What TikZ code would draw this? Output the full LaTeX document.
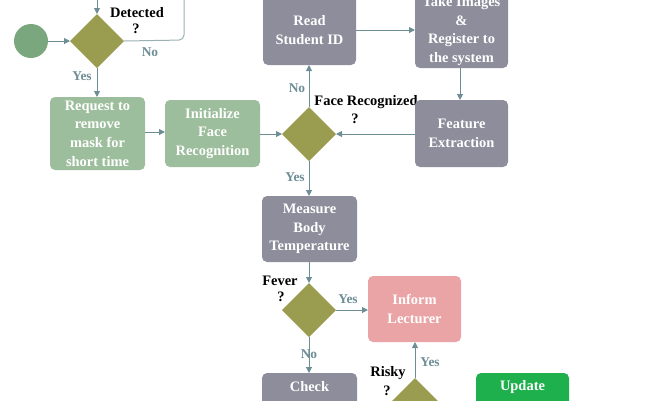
\documentclass[tikz,border=0pt]{standalone}
\usepackage{fontspec}
\setmainfont{Liberation Serif}
\usetikzlibrary{shapes.geometric,arrows.meta}
\definecolor{cgreen}{HTML}{9DBE9C}
\definecolor{cstart}{HTML}{7BA77E}
\definecolor{colive}{HTML}{9A9C50}
\definecolor{cgray}{HTML}{8D8D9C}
\definecolor{cpink}{HTML}{EBA4A5}
\definecolor{cupd}{HTML}{1EB04C}
\definecolor{cline}{HTML}{6E8E96}
\begin{document}
\begin{tikzpicture}[x=1bp,y=-1bp,
 box/.style={draw=none,rounded corners=5bp,text=white,font=\fontsize{14.5}{18.7}\selectfont\bfseries,align=center},
 dia/.style={fill=colive,draw=none},
 lab/.style={font=\fontsize{14.5}{17}\selectfont\bfseries},
 ylab/.style={font=\fontsize{13.5}{15}\selectfont\bfseries,text=cline},
 arr/.style={draw=cline,line width=1bp,-{Triangle[length=6bp,width=6bp]}}]
\useasboundingbox (0,0) rectangle (650,400);
\begin{scope}
\clip (0,0) rectangle (650,400);
\fill[cstart] (31,41) circle (17);
\coordinate (st) at (48,41);
\fill[dia] (97,14) coordinate (d1t) -- (124,41) coordinate (d1r) -- (97,68) coordinate (d1b) -- (70,41) coordinate (d1l) -- cycle;
\draw[cline!70,line width=1bp,rounded corners=5bp] (d1r) -- (184,40) -- (184,-5);
\coordinate (top1) at (97,-5);
\draw[arr] (top1) -- (d1t);
\draw[arr] (st) -- (d1l);
\node[lab] (t1) at (137,13) {Detected};
\node[lab] (t2) at (136,29) {?};
\node[ylab] (n1) at (150,52) {No};
\node[ylab] (y1) at (82,76) {Yes};

\fill[cgreen,rounded corners=5bp] (50,97) rectangle (145,170);
\node[box] (req) at (97.5,133.5) {Request to\\remove\\mask for\\short time};
\fill[cgreen,rounded corners=5bp] (165,100) rectangle (260,167);
\node[box] (ini) at (212.5,133.5) {Initialize\\Face\\Recognition};
\coordinate (reqt) at (97,97);
\draw[arr] (d1b) -- (reqt);
\draw[arr] (145,132) coordinate (reqr) -- (165,132) coordinate (inil);

\fill[dia] (309,107) coordinate (d2t) -- (336,134) coordinate (d2r) -- (309,161) coordinate (d2b) -- (282,134) coordinate (d2l) -- cycle;
\draw[arr] (260,134) coordinate (inir) -- (d2l);
\node[lab] (fr1) at (366,102) {Face Recognized};
\node[lab] (fr2) at (355,119) {?};
\node[ylab] (n2) at (297,88) {No};
\node[ylab] (y2) at (295,177) {Yes};

\fill[cgray,rounded corners=5bp] (263,-10) rectangle (356,65);
\node[box] (read) at (309.5,30) {Read\\Student ID};
\draw[arr] (d2t) -- (309,65) coordinate (readb);
\fill[cgray,rounded corners=5bp] (415,-10) rectangle (508,68);
\node[box] (take) at (461.5,31) {Take Images\\\&\\Register to\\the system};
\draw[arr] (356,30) coordinate (readr) -- (415,30) coordinate (takel);
\fill[cgray,rounded corners=5bp] (415,100) rectangle (508,167);
\node[box] (feat) at (461.5,133.5) {Feature\\Extraction};
\draw[arr] (460,68) coordinate (takeb) -- (460,100) coordinate (featt);
\draw[arr] (415,134) coordinate (featl) -- (d2r);

\fill[cgray,rounded corners=5bp] (262,196) rectangle (357,262);
\node[box] (meas) at (309.5,229) {Measure\\Body\\Temperature};
\draw[arr] (d2b) -- (309,196) coordinate (meast);

\fill[dia] (309,283) coordinate (d3t) -- (336,310) coordinate (d3r) -- (309,337) coordinate (d3b) -- (282,310) coordinate (d3l) -- cycle;
\draw[arr] (309,262) coordinate (measb) -- (d3t);
\node[lab] (fe1) at (280,281) {Fever};
\node[lab] (fe2) at (281,297) {?};
\node[ylab] (y3) at (348,299) {Yes};
\node[ylab] (n3) at (309,354) {No};

\fill[cpink,rounded corners=5bp] (368,276) rectangle (461,342);
\node[box] (inf) at (414.5,309) {Inform\\Lecturer};
\draw[arr] (d3r) -- (368,310) coordinate (infl);

\fill[cgray,rounded corners=5bp] (262,373) rectangle (357,420);
\node[box] (chk) at (309.5,387) {Check};
\draw[arr] (d3b) -- (309,373) coordinate (chkt);

\fill[dia] (415,378) coordinate (d4t) -- (442,405) -- (415,432) -- (388,405) -- cycle;
\draw[arr] (d4t) -- (415,342) coordinate (infb);
\node[lab] (r1) at (388,373) {Risky};
\node[lab] (r2) at (387,391) {?};
\node[ylab] (y4) at (430,362) {Yes};

\fill[cupd,rounded corners=5bp] (476,373) rectangle (569,420);
\node[box] (upd) at (522.5,387) {Update};
\end{scope}
\end{tikzpicture}
\end{document}
